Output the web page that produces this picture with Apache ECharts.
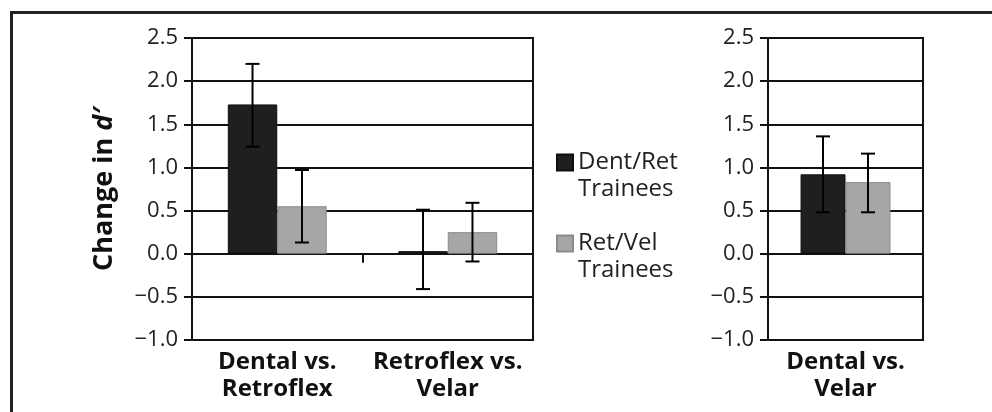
<!DOCTYPE html>
<html><head><meta charset="utf-8">
<script src="https://cdn.jsdelivr.net/npm/echarts@6/dist/echarts.min.js"></script>
<style>
html,body{margin:0;padding:0;background:#fff;}
body{width:992px;height:412px;overflow:hidden;position:relative;}
#chart{position:absolute;left:0;top:0;width:992px;height:412px;}
#frame{position:absolute;left:10px;top:11px;width:1100px;height:500px;border-left:3px solid #222;border-top:3px solid #222;box-sizing:border-box;pointer-events:none;}
</style></head><body>
<div id="chart"></div><div id="frame"></div>
<script>
// ---- data ----
const categoriesLeft = ['Dental vs.\nRetroflex', 'Retroflex vs.\nVelar'];
const categoriesRight = ['Dental vs.\nVelar'];
const seriesNames = ['Dent/Ret Trainees', 'Ret/Vel Trainees'];
const dentRetLeft = [1.73, 0.03];
const retVelLeft = [0.55, 0.25];
const dentRetRight = [0.92];
const retVelRight = [0.83];
const dentRetLeftErrLow = [1.24, -0.41];
const dentRetLeftErrHigh = [2.20, 0.51];
const retVelLeftErrLow = [0.13, -0.09];
const retVelLeftErrHigh = [0.97, 0.59];
const dentRetRightErrLow = [0.48];
const dentRetRightErrHigh = [1.36];
const retVelRightErrLow = [0.48];
const retVelRightErrHigh = [1.16];
const yMin = -1.0, yMax = 2.5, yStep = 0.5;

// ---- styles ----
const FONT = '"Open Sans", "DejaVu Sans", sans-serif';
const INK = '#111';
const darkColor = '#1f1f1f', darkBorder = '#0e0e0e';
const grayColor = '#a6a6a6', grayBorder = '#8a8a8a';
const BAR_FRAC = 0.29;
const NAME_SIZE = 27;

const chart = echarts.init(document.getElementById('chart'), null, {renderer: 'canvas'});

function yAxisCfg(gridIndex, withName) {
  const cfg = {
    type: 'value', gridIndex, min: yMin, max: yMax, interval: yStep,
    axisLine: {show: true, onZero: false, lineStyle: {color: INK, width: 2}},
    axisTick: {show: true, length: 8, lineStyle: {color: INK, width: 2}},
    axisLabel: {
      margin: 14, color: '#222', fontFamily: FONT, fontSize: 22,
      formatter: v => (v < 0 ? '\u2212' + Math.abs(v).toFixed(1) : v.toFixed(1))
    },
    splitLine: {show: true, lineStyle: {color: INK, width: 2}}
  };
  if (withName) {
    Object.assign(cfg, {
      name: '{a|Change in }{b|d\u2032}', nameLocation: 'middle', nameRotate: 90, nameGap: 74,
      nameTextStyle: {
        fontFamily: FONT, fontSize: NAME_SIZE, fontWeight: 'bold', color: '#111',
        rich: {
          a: {fontFamily: FONT, fontSize: NAME_SIZE, fontWeight: 'bold', color: '#111'},
          b: {fontFamily: FONT, fontSize: NAME_SIZE, fontWeight: 'bold', fontStyle: 'italic', color: '#111'}
        }
      }
    });
  }
  return cfg;
}
function xAxisLabels(gridIndex, data) {
  return {
    type: 'category', gridIndex, data, position: 'bottom',
    axisLine: {show: false, onZero: false},
    axisTick: {show: false},
    axisLabel: {margin: 9, color: '#111', fontFamily: FONT, fontSize: 24, fontWeight: 'bold', lineHeight: 27, interval: 0},
    splitLine: {show: false}
  };
}
function xAxisZero(gridIndex, data, yIndex) {
  return {
    type: 'category', gridIndex, data, position: 'bottom',
    axisLine: {show: true, onZero: true, onZeroAxisIndex: yIndex, lineStyle: {color: INK, width: 2}},
    axisTick: {show: true, inside: false, length: 9, lineStyle: {color: INK, width: 2}},
    axisLabel: {show: false},
    splitLine: {show: false}
  };
}

function errRender(sign) {
  return function (params, api) {
    const idx = api.value(0);
    const lo = api.coord([idx, api.value(1)]);
    const hi = api.coord([idx, api.value(2)]);
    const band = api.size([1, 0])[0];
    const x = lo[0] + sign * BAR_FRAC * band / 2;
    const cap = 7;
    const st = {stroke: '#000', lineWidth: 2};
    return {
      type: 'group',
      children: [
        {type: 'line', shape: {x1: x, y1: lo[1], x2: x, y2: hi[1]}, style: st},
        {type: 'line', shape: {x1: x - cap, y1: lo[1], x2: x + cap, y2: lo[1]}, style: st},
        {type: 'line', shape: {x1: x - cap, y1: hi[1], x2: x + cap, y2: hi[1]}, style: st}
      ]
    };
  };
}
function errData(lows, highs) {
  return lows.map((l, i) => [i, l, highs[i]]);
}
function barSeries(name, data, xIdx, yIdx, color, border) {
  return {
    type: 'bar', name, data, xAxisIndex: xIdx, yAxisIndex: yIdx,
    barWidth: (BAR_FRAC * 100) + '%', barGap: '0%',
    itemStyle: {color, borderColor: border, borderWidth: 1},
    emphasis: {disabled: true}, z: 2
  };
}
function errSeries(name, data, xIdx, yIdx, sign) {
  return {
    type: 'custom', name, data, xAxisIndex: xIdx, yAxisIndex: yIdx,
    renderItem: errRender(sign), encode: {x: 0, y: [1, 2]}, z: 5, silent: true
  };
}

const option = {
  animation: false,
  backgroundColor: 'transparent',
  grid: [
    {left: 192, right: 459, top: 38, bottom: 72, show: true, borderColor: INK, borderWidth: 2, backgroundColor: 'transparent'},
    {left: 768, right: 69, top: 38, bottom: 72, show: true, borderColor: INK, borderWidth: 2, backgroundColor: 'transparent'}
  ],
  xAxis: [
    xAxisLabels(0, categoriesLeft),
    xAxisLabels(1, categoriesRight),
    xAxisZero(0, categoriesLeft, 0),
    xAxisZero(1, categoriesRight, 1)
  ],
  yAxis: [yAxisCfg(0, true), yAxisCfg(1, false)],
  legend: {
    data: seriesNames,
    orient: 'vertical', left: 556, top: 122, padding: 0,
    itemWidth: 16, itemHeight: 16, itemGap: 0,
    icon: 'rect',
    formatter: n => '\n' + n.replace(' ', '\n'),
    textStyle: {fontFamily: FONT, fontSize: 24, lineHeight: 27, color: '#222'},
    selectedMode: false
  },
  series: [
    barSeries(seriesNames[0], dentRetLeft, 0, 0, darkColor, darkBorder),
    barSeries(seriesNames[1], retVelLeft, 0, 0, grayColor, grayBorder),
    barSeries(seriesNames[0], dentRetRight, 1, 1, darkColor, darkBorder),
    barSeries(seriesNames[1], retVelRight, 1, 1, grayColor, grayBorder),
    errSeries(seriesNames[0] + ' error', errData(dentRetLeftErrLow, dentRetLeftErrHigh), 0, 0, -1),
    errSeries(seriesNames[1] + ' error', errData(retVelLeftErrLow, retVelLeftErrHigh), 0, 0, 1),
    errSeries(seriesNames[0] + ' error', errData(dentRetRightErrLow, dentRetRightErrHigh), 1, 1, -1),
    errSeries(seriesNames[1] + ' error', errData(retVelRightErrLow, retVelRightErrHigh), 1, 1, 1)
  ]
};
chart.setOption(option);
</script>
</body></html>
